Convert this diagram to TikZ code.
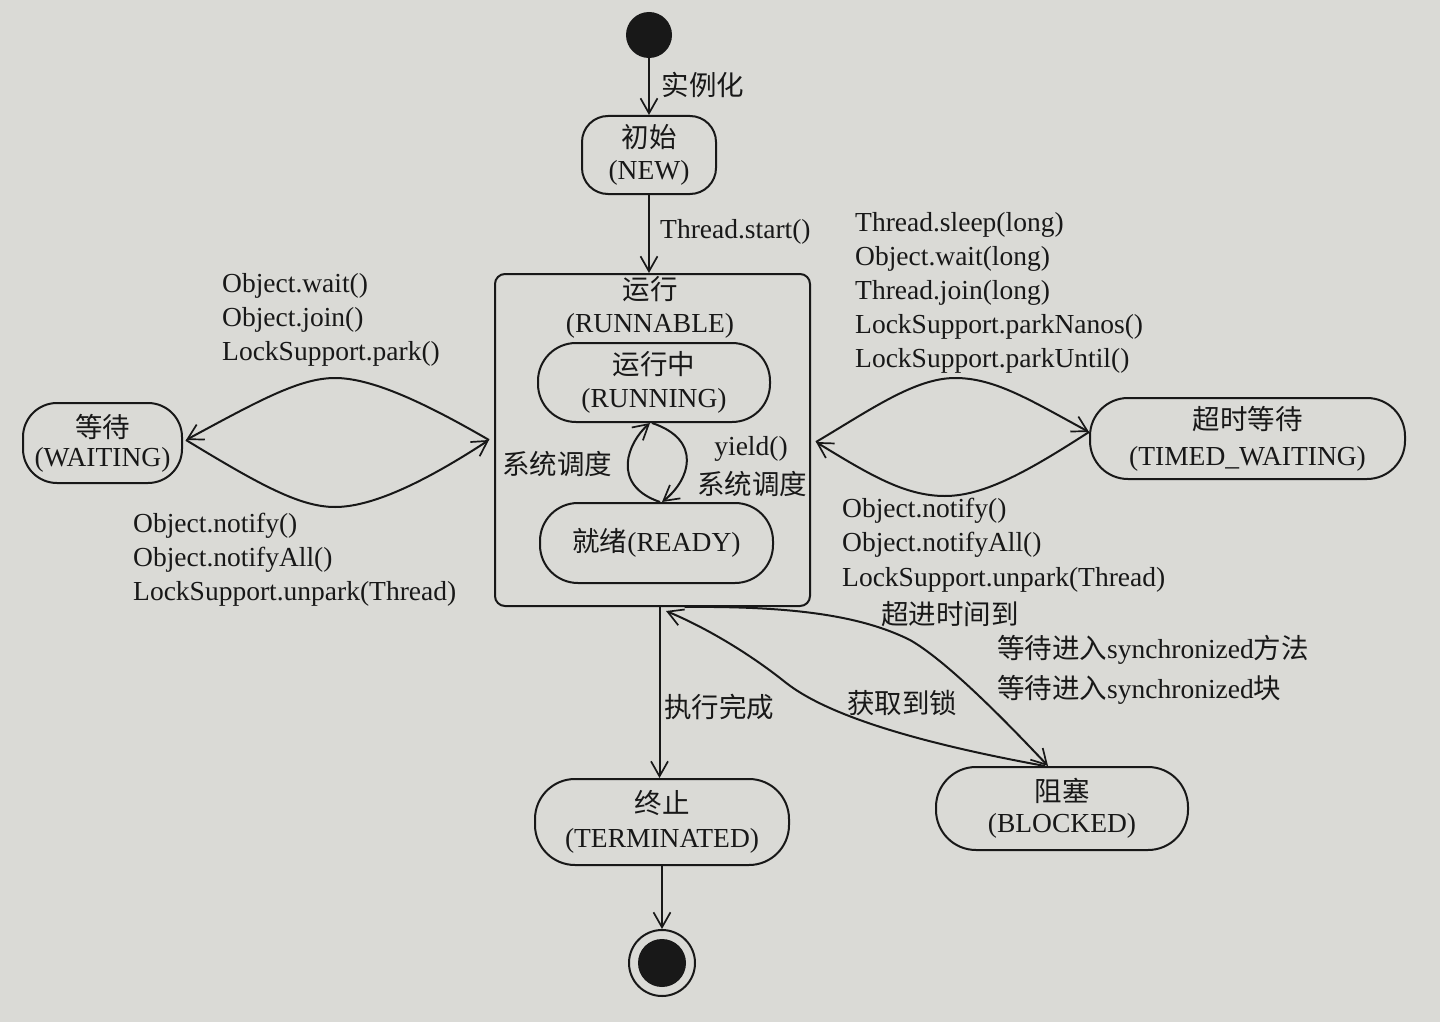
\documentclass[tikz,border=0pt]{standalone}
\usepackage{fontspec}
\setmainfont{Liberation Serif}
\newfontfamily\cjk{Noto Sans CJK SC}
\usetikzlibrary{arrows.meta}
\definecolor{bg}{RGB}{218,218,214}
\definecolor{ink}{RGB}{24,24,24}
\newcommand{\zh}[1]{{\cjk\fontsize{27.5}{33}\selectfont #1}}
\begin{document}
\begin{tikzpicture}[x=1pt,y=-1pt,
  every node/.style={text=ink, font=\fontsize{27.5}{33}\selectfont, inner sep=0pt},
  line/.style={draw=ink, line width=2pt},
  arr/.style={line, -{Straight Barb[length=15pt,width=17pt,line width=1.7pt]}},
  state/.style={draw=ink, line width=2pt, rectangle, align=center, rounded corners=36pt},
  lbl/.style={anchor=base west},
]
\fill[bg] (0,0) rectangle (1440,1022);
\useasboundingbox (0,0) rectangle (1440,1022);

% states
\node[circle, fill=ink, minimum size=46pt] (init) at (649,35) {};
\node[state, minimum width=134pt, minimum height=78pt, rounded corners=26pt, font=\fontsize{27.5}{32}\selectfont] (new) at (649,155) {\zh{初始}\\(NEW)};
\node[state, minimum width=315pt, minimum height=332pt, rounded corners=10pt] (runnable) at (652.5,440) {};
\node[align=center, font=\fontsize{27.5}{33}\selectfont] (runlbl) at (650,307) {\zh{运行}\\(RUNNABLE)};
\node[state, minimum width=232pt, minimum height=79pt, rounded corners=38pt] (running) at (654,382.5) {\zh{运行中}\\(RUNNING)};
\node[state, minimum width=233pt, minimum height=80pt, rounded corners=38pt] (ready) at (656.5,543) {\zh{就绪}(READY)};
\node[state, minimum width=159pt, minimum height=80pt, rounded corners=34pt, font=\fontsize{27.5}{29}\selectfont] (waiting) at (102.5,443) {\zh{等待}\\(WAITING)};
\node[state, minimum width=315pt, minimum height=81pt, rounded corners=38pt, font=\fontsize{27.5}{36}\selectfont] (timed) at (1247.5,438.5) {\zh{超时等待}\\(TIMED\_WAITING)};
\node[state, minimum width=254pt, minimum height=86pt, rounded corners=40pt, font=\fontsize{27.5}{34}\selectfont] (term) at (662,822) {\zh{终止}\\(TERMINATED)};
\node[state, minimum width=252pt, minimum height=83pt, rounded corners=40pt, font=\fontsize{27.5}{31}\selectfont] (blocked) at (1062,808.5) {\zh{阻塞}\\(BLOCKED)};
\node[circle, draw=ink, line width=2pt, minimum size=66pt,
  path picture={\fill[ink] (path picture bounding box.center) circle (24pt);}] (final) at (662,963) {};

% top connectors
\draw[arr] (init) -- (new);
\node (lshi) at (703,85) {\zh{实例化}};
\draw[arr] (new.south) -- (new.south |- runnable.north);
\node[lbl] (lstart) at (660,238) {Thread.start()};

% loop inside RUNNABLE
\draw[arr] ([xshift=3.5pt]ready.north) .. controls (610,485) and (628,442) .. ([xshift=-4pt]running.south);
\draw[arr] ([xshift=-2pt]running.south) .. controls (703,440) and (690,480) .. ([xshift=5.5pt]ready.north);
\node (lsys1) at (557,464) {\zh{系统调度}};
\node[anchor=base] (lyield) at (751,455) {yield()};
\node (lsys2) at (752,484) {\zh{系统调度}};

% WAITING lens
\draw[arr] ([xshift=-5pt]runnable.west) .. controls (420,400) and (370,378) .. (335,378)
  .. controls (300,378) and (260,400) .. ([xshift=3pt,yshift=3pt]waiting.east);
\draw[arr] ([xshift=3pt,yshift=3pt]waiting.east) .. controls (260,485) and (300,507) .. (335,507)
  .. controls (370,507) and (420,485) .. ([xshift=-5pt]runnable.west);
\node[lbl] (lw1) at (222,292) {Object.wait()};
\node[lbl] (lw2) at (222,326) {Object.join()};
\node[lbl] (lw3) at (222,360) {LockSupport.park()};
\node[lbl] (ln1) at (133,532) {Object.notify()};
\node[lbl] (ln2) at (133,566) {Object.notifyAll()};
\node[lbl] (ln3) at (133,600) {LockSupport.unpark(Thread)};

% TIMED_WAITING lens
\draw[arr] ([xshift=5pt,yshift=-2pt]runnable.east) .. controls (870,410) and (915,378) .. (955,378)
  .. controls (995,378) and (1030,400) .. ([yshift=6.5pt]timed.west);
\draw[arr] ([yshift=6.5pt]timed.west) .. controls (1030,470) and (985,496) .. (945,496)
  .. controls (905,496) and (870,475) .. ([xshift=5pt,yshift=-2pt]runnable.east);
\node[lbl] (lt1) at (855,231) {Thread.sleep(long)};
\node[lbl] (lt2) at (855,265) {Object.wait(long)};
\node[lbl] (lt3) at (855,299) {Thread.join(long)};
\node[lbl] (lt4) at (855,333) {LockSupport.parkNanos()};
\node[lbl] (lt5) at (855,367) {LockSupport.parkUntil()};
\node[lbl] (lr1) at (842,517) {Object.notify()};
\node[lbl] (lr2) at (842,551) {Object.notifyAll()};
\node[lbl] (lr3) at (842,586) {LockSupport.unpark(Thread)};

% bottom
\draw[arr] ([xshift=7pt]runnable.south) -- ([xshift=7pt]runnable.south |- term.north);
\node (ldone) at (719,707) {\zh{执行完成}};
\draw[arr] (term.south) -- (final.north);

\draw[arr] ([xshift=32pt]runnable.south) .. controls (790,606) and (860,615) .. (910,640)
  .. controls (945,660) and (1000,715) .. ([xshift=-14pt]blocked.north);
\draw[arr] ([xshift=-17pt]blocked.north) .. controls (930,745) and (830,718) .. (785,682)
  .. controls (745,650) and (700,625) .. ([xshift=13.5pt,yshift=-4pt]runnable.south);
\node (ltimeout) at (950,614) {\zh{超进时间到}};
\node (llock) at (902,703) {\zh{获取到锁}};
\node[anchor=west] (ls1) at (997,650) {\zh{等待进入}synchronized\zh{方法}};
\node[anchor=west] (ls2) at (997,690) {\zh{等待进入}synchronized\zh{块}};
\end{tikzpicture}
\end{document}
